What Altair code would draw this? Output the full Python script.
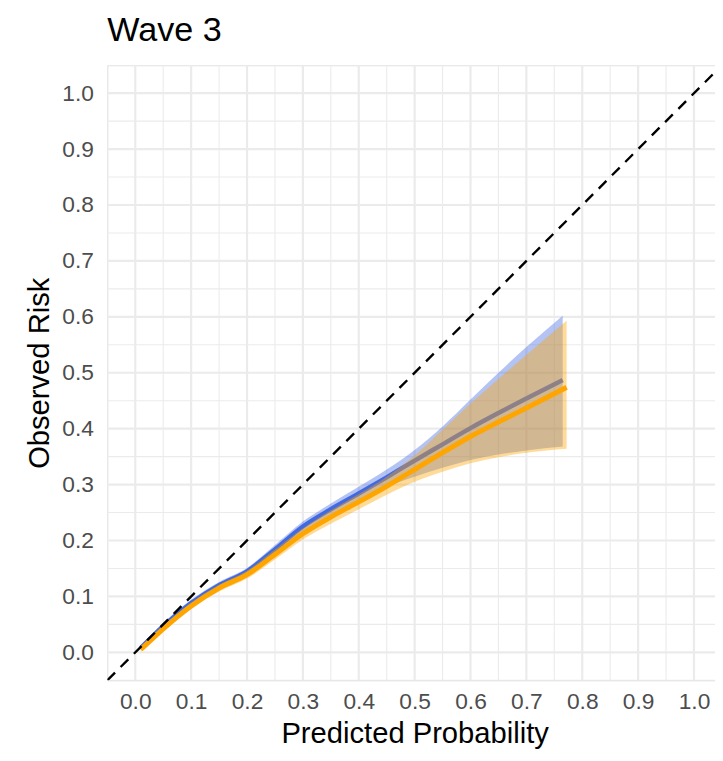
import altair as alt
import pandas as pd

# ---- data ----
x_blue = [0.01, 0.05, 0.10, 0.15, 0.20, 0.25, 0.30, 0.35, 0.40, 0.45, 0.50, 0.55, 0.60, 0.65, 0.70, 0.765]
y_blue = [0.008, 0.047, 0.088, 0.120, 0.145, 0.184, 0.225, 0.256, 0.284, 0.313, 0.343, 0.372, 0.401, 0.428, 0.454, 0.487]
hi_blue = [0.012, 0.052, 0.094, 0.126, 0.151, 0.192, 0.234, 0.266, 0.296, 0.327, 0.362, 0.404, 0.452, 0.500, 0.546, 0.602]
lo_blue = [0.004, 0.042, 0.082, 0.114, 0.139, 0.176, 0.216, 0.246, 0.272, 0.296, 0.314, 0.330, 0.344, 0.354, 0.361, 0.368]

x_orange = [0.01, 0.05, 0.10, 0.15, 0.20, 0.25, 0.30, 0.35, 0.40, 0.45, 0.50, 0.55, 0.60, 0.65, 0.70, 0.772]
y_orange = [0.005, 0.042, 0.083, 0.115, 0.139, 0.175, 0.212, 0.242, 0.269, 0.297, 0.327, 0.357, 0.386, 0.412, 0.437, 0.474]
hi_orange = [0.009, 0.047, 0.089, 0.121, 0.146, 0.184, 0.222, 0.254, 0.283, 0.314, 0.352, 0.398, 0.445, 0.489, 0.532, 0.593]
lo_orange = [0.001, 0.037, 0.077, 0.109, 0.132, 0.166, 0.202, 0.230, 0.256, 0.282, 0.305, 0.323, 0.338, 0.349, 0.357, 0.364]

diag = [-0.05, 1.05]
major_ticks = [0.0, 0.1, 0.2, 0.3, 0.4, 0.5, 0.6, 0.7, 0.8, 0.9, 1.0]
minor_ticks = [-0.05, 0.05, 0.15, 0.25, 0.35, 0.45, 0.55, 0.65, 0.75, 0.85, 0.95, 1.05]
title_text = ["Wave 3"]

# ---- layout ----
W, H = 614.5, 622
XMIN, XMAX = -0.05, -0.05 + 614.5 / 565.0
FONT = "Liberation Sans"
GRID = "#EBEBEB"

blue = pd.DataFrame({"x": x_blue, "y": y_blue, "lo": lo_blue, "hi": hi_blue})
orange = pd.DataFrame({"x": x_orange, "y": y_orange, "lo": lo_orange, "hi": hi_orange})
diag_df = pd.DataFrame({"x": diag, "y": diag})
maj_df = pd.DataFrame({"v": major_ticks})
min_df = pd.DataFrame({"v": minor_ticks})
title_df = pd.DataFrame({"t": title_text})

xscale = alt.Scale(domain=[XMIN, XMAX], nice=False, zero=False)
yscale = alt.Scale(domain=[-0.05, 1.05], nice=False, zero=False)

xaxis = alt.Axis(values=major_ticks, format=".1f", grid=False, ticks=False, tickSize=0, domain=False,
                 labelFontSize=23, labelColor="#4D4D4D", labelFont=FONT, labelPadding=11,
                 labelFlush=False, labelOverlap=False,
                 title="Predicted Probability", titleFont=FONT, titleFontSize=29.5, titleColor="black",
                 titleFontWeight="normal", titleX=310.75, titleY=63, titleBaseline="alphabetic",
                 titleAlign="center")
yaxis = alt.Axis(values=major_ticks, format=".1f", grid=False, ticks=False, tickSize=0, domain=False,
                 labelFontSize=23, labelColor="#4D4D4D", labelFont=FONT, labelPadding=14,
                 labelFlush=False, labelOverlap=False,
                 title="Observed Risk", titleFont=FONT, titleFontSize=29.5, titleColor="black",
                 titleFontWeight="normal", titleX=-59, titleY=H / 2, titleAngle=270,
                 titleBaseline="alphabetic", titleAlign="center")


def X(field="x"):
    return alt.X(f"{field}:Q", scale=xscale, axis=xaxis)


def Y(field="y"):
    return alt.Y(f"{field}:Q", scale=yscale, axis=yaxis)


vmin = alt.Chart(min_df).mark_rule(color=GRID, strokeWidth=1.1, clip=True).encode(x=X("v"))
hmin = alt.Chart(min_df).mark_rule(color=GRID, strokeWidth=1.1, clip=True).encode(y=Y("v"))
vmaj = alt.Chart(maj_df).mark_rule(color=GRID, strokeWidth=2.2, clip=True).encode(x=X("v"))
hmaj = alt.Chart(maj_df).mark_rule(color=GRID, strokeWidth=2.2, clip=True).encode(y=Y("v"))

diag_line = alt.Chart(diag_df).mark_line(color="black", strokeWidth=2.4, strokeDash=[11, 8], clip=True).encode(
    x=X(), y=Y())

blue_band = alt.Chart(blue).mark_area(color="#4169E1", opacity=0.4, interpolate="monotone").encode(
    x=X(), y=Y("lo"), y2="hi:Q")
blue_line = alt.Chart(blue).mark_line(color="#4169E1", strokeWidth=4.5, interpolate="monotone").encode(
    x=X(), y=Y())
orange_band = alt.Chart(orange).mark_area(color="#FFA500", opacity=0.4, interpolate="monotone").encode(
    x=X(), y=Y("lo"), y2="hi:Q")
orange_line = alt.Chart(orange).mark_line(color="#FFA500", strokeWidth=5, interpolate="monotone").encode(
    x=X(), y=Y())

title_mark = alt.Chart(title_df).mark_text(
    align="left", baseline="alphabetic", fontSize=34.5, font=FONT, color="black", clip=False
).encode(x=alt.value(0), y=alt.value(-24.2), text="t:N")

chart = alt.layer(
    vmin, hmin, vmaj, hmaj, blue_band, blue_line, orange_band, orange_line, diag_line, title_mark
).properties(
    width=W, height=H,
    padding={"left": 100.45, "top": 53.7, "right": 0, "bottom": 68},
    autosize=alt.AutoSizeParams(type="none"),
).configure_view(stroke=None).configure(background="white")

chart.save("out.html", embed_options={"renderer": "svg", "actions": False})
